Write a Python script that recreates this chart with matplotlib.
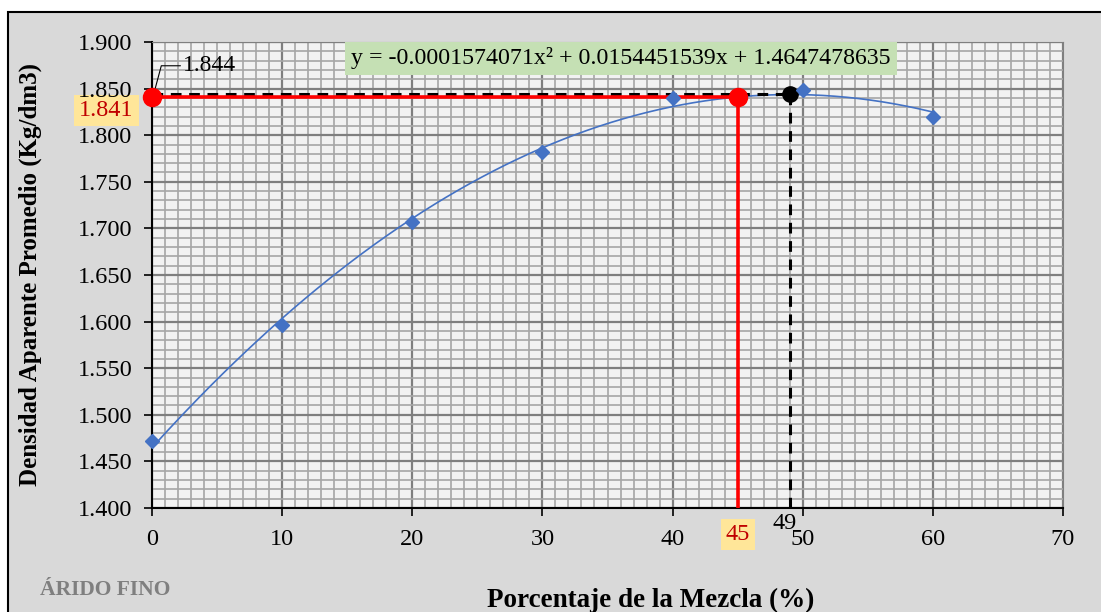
import numpy as np
import matplotlib
matplotlib.use("Agg")
import matplotlib.pyplot as plt
from matplotlib.patches import Rectangle
from matplotlib.ticker import MultipleLocator, FormatStrFormatter

plt.rcParams['font.family'] = ['Liberation Serif', 'DejaVu Serif']

# data
porcentaje = [0, 10, 20, 30, 40, 50, 60]
densidad = [1.472, 1.596, 1.707, 1.782, 1.840, 1.848, 1.819]
# trendline coefficients shown on the chart (a*x^2 + b*x + c)
coef = [-0.0001574071, 0.0154451539, 1.4647478635]
x_opt_red, y_opt_red = 45, 1.841
x_max, y_max = 49, 1.844

fig = plt.figure(figsize=(11.01, 6.12), dpi=100)
fig.patch.set_facecolor('white')
# gray chart area with a black frame
fig.patches.append(Rectangle((8 / 1101, -0.05), 1.2, 1 - 12 / 612 + 0.05,
                             transform=fig.transFigure, facecolor='#d9d9d9',
                             edgecolor='black', linewidth=1.5, zorder=-10))

ax = fig.add_axes([152 / 1101, 1 - 508 / 612, (1063 - 152) / 1101, (508 - 42) / 612])
ax.set_facecolor('#f2f2f2')
ax.set_xlim(0, 70)
ax.set_ylim(1.4, 1.9)
ax.xaxis.set_major_locator(MultipleLocator(10))
ax.xaxis.set_minor_locator(MultipleLocator(1))
ax.yaxis.set_major_locator(MultipleLocator(0.05))
ax.yaxis.set_minor_locator(MultipleLocator(0.01))
ax.yaxis.set_major_formatter(FormatStrFormatter('%.3f'))
ax.grid(which='major', color='#7f7f7f', linewidth=1.6, zorder=0)
ax.grid(which='minor', color='#a6a6a6', linewidth=1.2, zorder=0)
ax.set_axisbelow(True)
ax.tick_params(which='major', direction='out', length=6, width=1.2, labelsize=17.5, color='black')
ax.tick_params(axis='y', pad=8)
ax.tick_params(axis='x', pad=9)
ax.tick_params(which='minor', length=0)
for s in ['top', 'right']:
    ax.spines[s].set_color('#7f7f7f')
for s in ['left', 'bottom']:
    ax.spines[s].set_color('black')
    ax.spines[s].set_linewidth(1.5)

# trendline
xt = np.linspace(0, 60, 200)
ax.plot(xt, np.polyval(coef, xt), color='#4472c4', linewidth=1.2, zorder=3)

# dashed black guide (maximum)
ax.plot([0, x_max], [y_max, y_max], color='black', linestyle=(0, (3.5, 2.5)), linewidth=2.2, zorder=4)
ax.plot([x_max, x_max], [1.4, y_max], color='black', linestyle=(0, (3.5, 2.5)), linewidth=2.2, zorder=4)
ax.plot([x_max], [y_max], 'o', color='black', markersize=11, zorder=6)

# red guide (chosen value)
ax.plot([0, x_opt_red, x_opt_red], [y_opt_red, y_opt_red, 1.4], color='#ff0000', linewidth=2.6, zorder=5)
ax.plot([0, x_opt_red], [y_opt_red, y_opt_red], 'o', color='#ff0000', markersize=13, zorder=6, clip_on=False)

# data points
ax.plot(porcentaje, densidad, 'D', color='#4472c4', markersize=7, zorder=7, clip_on=False)

# labels
ax.annotate('1.844', xy=(0.1, 1.8425), xytext=(2.4, 1.8745),
            fontsize=17, va='center', ha='left',
            arrowprops=dict(arrowstyle='-', color='black', linewidth=0.8,
                            connectionstyle='angle,angleA=0,angleB=75,rad=0',
                            shrinkA=0, shrinkB=0))
# drawn below the axis so the 1.850 tick label stays on top of the box
ax.text(-1.4, 1.8265, '1.841', color='#c00000', fontsize=17.5, ha='right', va='center',
        clip_on=False, zorder=0.4,
        bbox=dict(boxstyle='square,pad=0.2', facecolor='#ffe699', edgecolor='none'))
ax.text(45, 1.3715, '45', color='#c00000', fontsize=17.5, ha='center', va='center',
        clip_on=False, bbox=dict(boxstyle='square,pad=0.2', facecolor='#ffe699', edgecolor='none'))
ax.text(48.6, 1.383, '49', color='black', fontsize=17.5, ha='center', va='center', clip_on=False)
ax.text(36.05, 1.8823, 'y = -0.0001574071x² + 0.0154451539x + 1.4647478635',
        fontsize=17.2, ha='center', va='center', zorder=8,
        bbox=dict(boxstyle='square,pad=0.25', facecolor='#c5e0b4', edgecolor='none'))

fig.text(30 / 1101, 1 - 275 / 612, 'Densidad Aparente Promedio (Kg/dm3)', rotation=90,
         fontsize=18, fontweight='bold', ha='center', va='center')
fig.text(651 / 1101, 1 - 600 / 612, 'Porcentaje de la Mezcla (%)',
         fontsize=19.5, fontweight='bold', ha='center', va='center')
fig.text(40 / 1101, 1 - 590 / 612, 'ÁRIDO FINO', color='#7f7f7f',
         fontsize=15.5, fontweight='bold', ha='left', va='center')

fig.savefig('out.png', dpi=100, facecolor=fig.get_facecolor())
